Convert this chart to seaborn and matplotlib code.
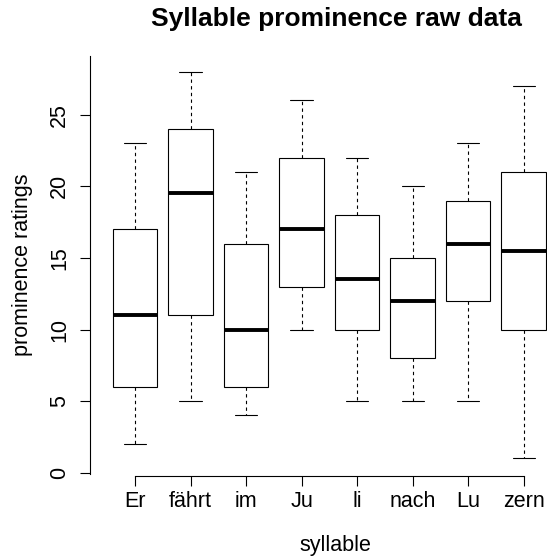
import matplotlib
matplotlib.use("Agg")
import matplotlib.pyplot as plt
import seaborn as sns
import pandas as pd

# Five-number summaries (min whisker, Q1, median, Q3, max whisker)
syllables = ["Er", "fährt", "im", "Ju", "li", "nach", "Lu", "zern"]
er    = [2, 6, 11, 17, 23]
faehrt = [5, 11, 19.5, 24, 28]
im    = [4, 6, 10, 16, 21]
ju    = [10, 13, 17, 22, 26]
li    = [5, 10, 13.5, 18, 22]
nach  = [5, 8, 12, 15, 20]
lu    = [5, 12, 16, 19, 23]
zern  = [1, 10, 15.5, 21, 27]
y_ticks = [0, 5, 10, 15, 20, 25]

series = [er, faehrt, im, ju, li, nach, lu, zern]
rows = []
for name, vals in zip(syllables, series):
    for v in vals:
        rows.append({"syllable": name, "rating": v})
df = pd.DataFrame(rows)

sns.set_style("ticks")
plt.rcParams["font.family"] = ["Liberation Sans", "DejaVu Sans"]
plt.rcParams["text.color"] = "black"

W, H = 547, 560
fig = plt.figure(figsize=(W / 100, H / 100), dpi=100)
left, right, top, bottom = 89.5, 547, 56, 474
ax = fig.add_axes([left / W, 1 - bottom / H, (right - left) / W, (bottom - top) / H])

sns.boxplot(
    data=df, x="syllable", y="rating", order=syllables, ax=ax,
    color="white", linecolor="black", linewidth=0.8, width=0.8, whis=1.5,
    whiskerprops={"linestyle": (0, (3, 3))},
    medianprops={"linewidth": 2.8},
)

ax.set_xlim(-0.82, 7.42)
ax.set_ylim(-0.09, 29.1)
ax.set_yticks(y_ticks)
ax.set_yticklabels([str(t) for t in y_ticks])

sns.despine(ax=ax, top=True, right=True)
ax.spines["bottom"].set_bounds(0, 7)
ax.spines["bottom"].set_position(("outward", 1.2))
for s in ["left", "bottom"]:
    ax.spines[s].set_linewidth(0.8)
    ax.spines[s].set_color("black")

ax.tick_params(axis="both", length=7, width=0.8, color="black", labelsize=15.5, labelcolor="black")
ax.tick_params(axis="x", pad=4)
ax.tick_params(axis="y", pad=7, labelrotation=90)
for lab in ax.get_yticklabels():
    lab.set_va("center")

ax.set_xlabel("syllable", fontsize=15.5, color="black")
ax.set_ylabel("prominence ratings", fontsize=15.5, color="black")
ax.xaxis.set_label_coords((335 - left) / (right - left), (bottom - 551) / (bottom - top))
ax.xaxis.label.set_va("baseline")
ax.yaxis.set_label_coords((28 - left) / (right - left), 0.5)
ax.yaxis.label.set_va("baseline")

ax.set_title("Syllable prominence raw data", fontsize=19, fontweight="bold", color="black",
             x=(336 - left) / (right - left), y=(bottom - 26) / (bottom - top), va="baseline", pad=0)

fig.savefig("out.png", dpi=100)
